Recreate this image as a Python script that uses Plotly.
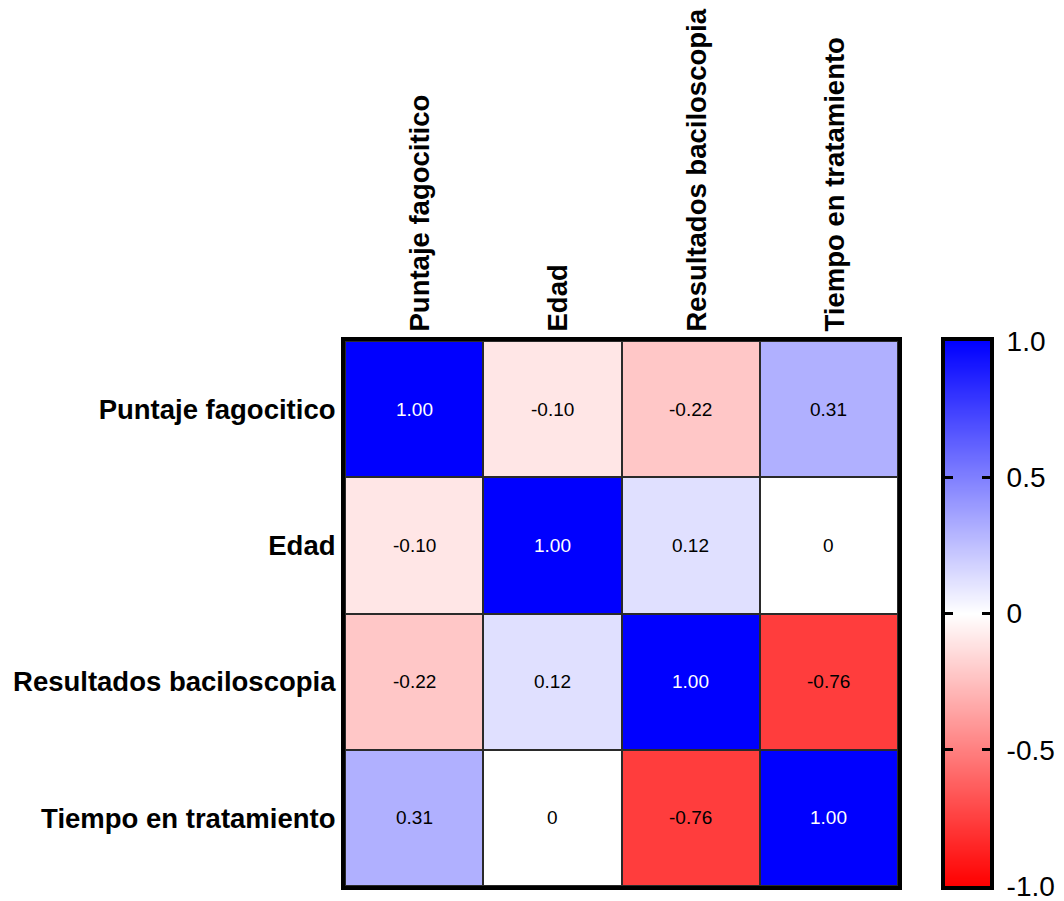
import plotly.graph_objects as go

# Correlation matrix between the clinical variables
variables = ["Puntaje fagocitico", "Edad", "Resultados baciloscopia", "Tiempo en tratamiento"]
corr_row_puntaje = [1.00, -0.10, -0.22, 0.31]
corr_row_edad = [-0.10, 1.00, 0.12, 0.00]
corr_row_bacilo = [-0.22, 0.12, 1.00, -0.76]
corr_row_tiempo = [0.31, 0.00, -0.76, 1.00]
z = [corr_row_puntaje, corr_row_edad, corr_row_bacilo, corr_row_tiempo]

# Colour scale range and ticks
scale_min, scale_max = -1.0, 1.0
scale_ticks = [-1.0, -0.5, 0.0, 0.5, 1.0]
scale_labels = ["-1.0", "-0.5", "0", "0.5", "1.0"]
colorscale = [[0, "#FF0000"], [0.5, "#FFFFFF"], [1, "#0000FF"]]

FONT = "Liberation Sans, Arial, sans-serif"
W, H = 1064, 901
ML, MT, MB = 345, 341, 15
heat_right_px = 898
bar_left_px, bar_right_px = 945, 990
MR = W - bar_right_px
paper_w = W - ML - MR
heat_right = (heat_right_px - ML) / paper_w
bar_left = (bar_left_px - ML) / paper_w


def fmt(v):
    return "0" if v == 0 else f"{v:.2f}"


fig = go.Figure()
fig.add_trace(go.Heatmap(
    z=z, x=variables, y=variables,
    zmin=scale_min, zmax=scale_max,
    colorscale=colorscale,
    xgap=2, ygap=2,
    showscale=False,
    hoverinfo="skip",
))

# Colour legend: a smoothed two-row heatmap spanning the scale range
fig.add_trace(go.Heatmap(
    z=[[scale_min, scale_min], [scale_max, scale_max]],
    x=[0, 1], y=[scale_min, scale_max],
    zmin=scale_min, zmax=scale_max,
    colorscale=colorscale, zsmooth="best",
    showscale=False, hoverinfo="skip",
    xaxis="x2", yaxis="y2",
))

# Cell value labels
annotations = []
for i, row_name in enumerate(variables):
    for j, col_name in enumerate(variables):
        v = z[i][j]
        annotations.append(dict(
            x=col_name, y=row_name, xref="x", yref="y",
            text=fmt(v), showarrow=False,
            font=dict(family=FONT, size=19, color="white" if v >= 0.9 else "black"),
        ))

fig.update_layout(
    width=W, height=H,
    margin=dict(l=ML, r=MR, t=MT, b=MB, autoexpand=False),
    paper_bgcolor="white",
    plot_bgcolor="#2a2a2a",
    showlegend=False,
    annotations=annotations,
    xaxis=dict(
        domain=[0, heat_right], automargin=False,
        side="top", tickangle=-90, ticks="", showgrid=False, zeroline=False,
        showline=True, linewidth=4, linecolor="black", mirror=True,
        tickfont=dict(family=FONT, size=27.5, color="black", weight="bold"),
        ticklabelshift=6,
    ),
    yaxis=dict(
        autorange="reversed", automargin=False,
        ticks="", showgrid=False, zeroline=False,
        showline=True, linewidth=4, linecolor="black", mirror=True,
        tickfont=dict(family=FONT, size=27.5, color="black", weight="bold"),
    ),
    xaxis2=dict(
        domain=[bar_left, 1], anchor="y2", range=[0, 1], automargin=False,
        showticklabels=False, ticks="", showgrid=False, zeroline=False,
        showline=True, linewidth=4, linecolor="black", mirror=True,
    ),
    yaxis2=dict(
        domain=[0, 1], anchor="x2", side="right", automargin=False,
        range=[scale_min, scale_max], tickvals=scale_ticks, ticktext=scale_labels,
        ticks="inside", ticklen=8, tickwidth=3, tickcolor="black",
        ticklabelstandoff=7, ticklabeloverflow="allow",
        tickfont=dict(family=FONT, size=28, color="black"),
        showgrid=False, zeroline=False,
        showline=True, linewidth=4, linecolor="black", mirror="allticks",
    ),
)

fig.write_html("out.html")
